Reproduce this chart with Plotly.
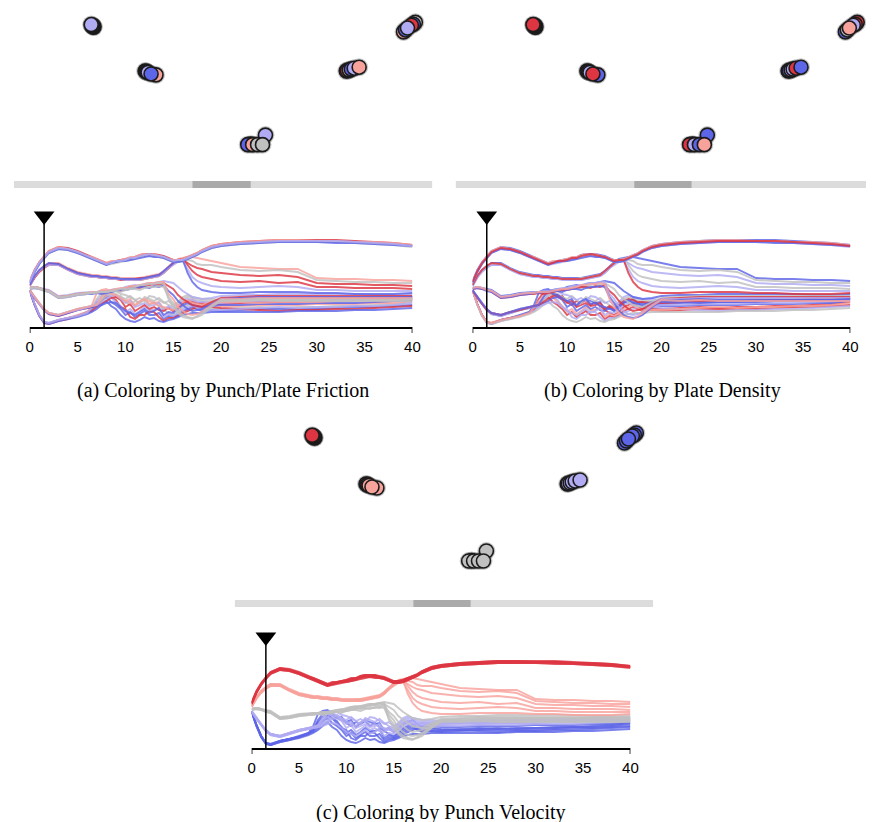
import plotly.graph_objects as go

W, H = 874, 822
OFF = 8  # page margin of the browser body

# ---------------- data ----------------
T = [0, 0.5, 1, 1.5, 2, 3, 4, 5,
     6, 6.5, 7, 7.5, 8, 8.5, 9, 9.5, 10, 10.5, 11, 11.5, 12, 12.5, 13, 13.5, 14, 14.5, 15, 15.5, 16, 16.5, 17, 17.5, 18,
     19, 20, 22, 24, 26, 28, 30, 32, 34, 36, 38, 40]
current_t = 1.5

# blue velocity group
B1 = [37, 23, 12, 5, 3, 7, 9, 11, 14, 18, 28, 34, 36, 33, 30, 31, 25, 22, 26, 24, 27, 22, 25, 21, 17, 14, 12, 15, 20, 22, 24, 21, 18, 19, 18, 19, 20, 19, 20, 20, 21, 21, 22, 23, 25]
B2 = [37, 23, 12, 5, 4, 7, 9, 11, 15, 17, 24, 27, 30, 25, 22, 18, 12, 15, 10, 13, 16, 12, 12, 14, 8, 11, 10, 12, 16, 18, 20, 18, 16, 17, 16, 17, 18, 18, 18, 18, 19, 20, 20, 21, 22]
B3 = [36, 22, 11, 4, 3, 6, 8, 11, 14, 16, 20, 26, 32, 30, 27, 20, 18, 10, 8, 12, 12, 16, 15, 10, 6, 9, 9, 11, 14, 16, 18, 20, 22, 20, 19, 18, 17, 16, 17, 17, 18, 18, 19, 20, 21]
B4 = [37, 23, 12, 5, 3, 7, 9, 12, 15, 22, 34, 37, 38, 35, 30, 28, 26, 28, 21, 25, 28, 26, 24, 25, 18, 20, 16, 19, 24, 26, 28, 24, 20, 22, 21, 21, 22, 22, 22, 23, 23, 23, 24, 24, 26]
B5 = [36, 22, 11, 4, 3, 6, 8, 10, 13, 15, 18, 22, 26, 21, 18, 12, 8, 6, 5, 7, 10, 8, 9, 6, 5, 7, 8, 10, 12, 13, 14, 14, 14, 15, 15, 15, 15, 15, 16, 16, 16, 17, 17, 18, 19]
B6 = [37, 23, 12, 5, 4, 7, 9, 11, 14, 19, 26, 31, 34, 29, 25, 21, 15, 18, 13, 16, 20, 17, 17, 19, 10, 13, 11, 14, 18, 20, 22, 19, 17, 17, 17, 18, 19, 20, 19, 20, 20, 21, 21, 22, 24]
# light blue velocity group
L1 = [37, 30, 24, 18, 14, 12, 15, 18, 20, 21, 22, 27, 31, 34, 33, 30, 28, 31, 27, 24, 30, 28, 26, 29, 25, 22, 20, 24, 28, 30, 29, 27, 26, 26, 26, 26, 27, 27, 28, 28, 28, 28, 29, 29, 30]
L2 = [37, 29, 23, 17, 13, 11, 14, 17, 19, 20, 21, 24, 26, 29, 30, 27, 20, 23, 16, 19, 22, 18, 20, 17, 16, 19, 16, 20, 24, 26, 25, 24, 24, 23, 23, 24, 25, 25, 25, 26, 27, 27, 28, 28, 28]
L3 = [36, 30, 24, 18, 14, 12, 15, 18, 20, 21, 23, 29, 34, 37, 36, 33, 32, 30, 27, 29, 26, 31, 30, 27, 24, 26, 22, 25, 30, 32, 30, 29, 28, 28, 27, 27, 28, 28, 28, 29, 29, 29, 30, 30, 31]
L4 = [37, 29, 23, 17, 13, 11, 14, 17, 19, 20, 21, 22, 24, 25, 24, 20, 16, 14, 12, 15, 18, 14, 16, 19, 12, 15, 14, 18, 22, 24, 22, 21, 20, 21, 22, 22, 23, 23, 23, 24, 24, 24, 25, 26, 27]
L5 = [36, 29, 23, 17, 14, 12, 15, 17, 20, 21, 22, 25, 28, 31, 32, 28, 24, 26, 20, 22, 24, 21, 22, 24, 18, 21, 18, 22, 26, 28, 27, 25, 25, 24, 24, 25, 26, 26, 26, 27, 27, 27, 28, 28, 29]
L6 = [37, 30, 24, 18, 14, 12, 15, 18, 20, 21, 22, 30, 36, 33, 32, 29, 26, 24, 22, 26, 28, 23, 24, 21, 20, 18, 17, 21, 25, 27, 24, 23, 22, 25, 25, 25, 24, 25, 25, 25, 26, 26, 27, 27, 28]
# gray velocity group
G1 = [39, 40, 39, 38, 37, 31, 32, 34, 35, 35, 35, 36, 36, 37, 38, 38, 40, 41, 42, 41, 43, 44, 44, 45, 46, 45, 44, 40, 36, 33, 30, 29, 28, 29, 31, 32, 32, 33, 33, 33, 33, 33, 32, 32, 33]
G2 = [39, 40, 39, 37, 36, 30, 31, 33, 34, 34, 34, 35, 35, 36, 37, 36, 38, 40, 40, 39, 41, 42, 43, 42, 44, 41, 38, 32, 28, 25, 22, 21, 20, 25, 29, 30, 31, 31, 31, 31, 31, 31, 31, 31, 31]
G3 = [38, 39, 38, 37, 35, 29, 30, 32, 33, 33, 34, 33, 34, 35, 36, 37, 37, 38, 39, 40, 40, 39, 41, 40, 42, 36, 32, 26, 22, 18, 16, 17, 18, 23, 28, 29, 30, 30, 30, 30, 30, 30, 30, 30, 30]
G4 = [39, 40, 39, 37, 36, 30, 31, 33, 34, 35, 35, 36, 36, 37, 38, 39, 39, 41, 41, 42, 43, 44, 44, 45, 45, 33, 28, 20, 16, 13, 12, 13, 15, 22, 28, 28, 29, 29, 29, 29, 29, 29, 29, 29, 29]
G5 = [38, 39, 38, 36, 35, 29, 30, 32, 33, 34, 34, 35, 35, 36, 36, 35, 37, 38, 38, 37, 39, 40, 40, 41, 40, 30, 24, 16, 12, 10, 9, 10, 12, 20, 26, 27, 28, 27, 27, 27, 27, 27, 27, 27, 28]
G6 = [39, 40, 39, 37, 36, 30, 31, 33, 34, 34, 35, 35, 35, 36, 37, 38, 38, 39, 40, 42, 42, 43, 43, 44, 43, 28, 20, 14, 10, 9, 8, 11, 14, 21, 27, 26, 27, 26, 26, 26, 26, 26, 26, 26, 26]
# salmon velocity group
S1 = [42, 51, 57, 61, 64, 64, 59, 55, 53, 52, 52, 51, 51, 50, 50, 49, 49, 49, 49, 49, 50, 51, 52, 53, 56, 61, 65, 68, 69, 70, 70, 69, 68, 66, 64, 60, 59, 58, 58, 49, 48, 48, 47, 47, 46]
S2 = [42, 50, 56, 60, 63, 63, 58, 54, 52, 51, 51, 50, 50, 49, 49, 48, 48, 48, 48, 48, 49, 50, 51, 52, 55, 60, 64, 67, 68, 67, 66, 63, 62, 62, 60, 57, 56, 57, 55, 47, 46, 45, 45, 44, 44]
S3 = [41, 49, 55, 59, 62, 62, 57, 53, 51, 50, 50, 49, 49, 48, 48, 47, 47, 47, 47, 47, 48, 49, 50, 51, 54, 59, 63, 66, 67, 64, 61, 59, 58, 55, 54, 52, 51, 52, 50, 44, 43, 43, 42, 42, 41]
S4 = [42, 50, 56, 60, 63, 63, 58, 54, 52, 51, 51, 50, 50, 49, 49, 48, 48, 48, 48, 49, 49, 50, 51, 52, 55, 60, 64, 67, 68, 62, 56, 52, 50, 48, 46, 45, 46, 44, 45, 40, 40, 39, 39, 39, 38]
S5 = [41, 50, 56, 60, 62, 62, 57, 53, 51, 50, 50, 49, 49, 48, 48, 48, 47, 47, 47, 47, 48, 49, 50, 51, 54, 59, 62, 65, 66, 58, 50, 46, 44, 41, 40, 39, 40, 41, 40, 37, 37, 36, 36, 36, 36]
S6 = [42, 51, 57, 61, 64, 63, 58, 54, 52, 51, 51, 50, 50, 49, 49, 48, 48, 48, 48, 48, 49, 50, 51, 52, 56, 60, 64, 67, 67, 54, 45, 40, 37, 35, 34, 34, 35, 35, 35, 34, 34, 33, 33, 33, 34]
# red velocity group
R1 = [46, 57, 65, 71, 76, 80, 79, 76, 72, 70, 68, 66, 64, 65, 66, 67, 68, 69, 70, 72, 73, 73, 73, 72, 71, 69, 67, 67, 68, 70, 72, 74, 77, 81, 83, 85, 86, 87, 87, 87, 87, 86, 85, 84, 82]
R2 = [44, 55, 63, 70, 75, 79, 78, 75, 71, 69, 67, 65, 63, 64, 65, 67, 67, 68, 69, 71, 72, 72, 72, 71, 70, 68, 66, 66, 67, 69, 71, 73, 76, 80, 82, 84, 85, 86, 86, 86, 86, 85, 84, 83, 81]
R3 = [45, 56, 64, 70, 74, 78, 77, 74, 70, 68, 66, 64, 62, 63, 64, 65, 66, 67, 68, 70, 71, 71, 71, 70, 69, 67, 65, 65, 66, 68, 70, 72, 75, 79, 81, 83, 84, 85, 85, 85, 85, 84, 83, 82, 80]
R4 = [45, 56, 64, 71, 76, 80, 78, 75, 71, 70, 68, 66, 64, 66, 66, 67, 68, 70, 70, 72, 73, 72, 73, 71, 70, 68, 67, 67, 68, 70, 72, 74, 77, 81, 83, 85, 86, 87, 87, 86, 86, 85, 85, 84, 82]
R5 = [44, 55, 63, 69, 74, 78, 77, 74, 70, 68, 66, 64, 62, 64, 65, 66, 66, 67, 68, 69, 70, 71, 70, 70, 69, 67, 65, 65, 66, 68, 70, 72, 75, 79, 81, 83, 84, 85, 85, 85, 84, 84, 83, 82, 81]
R6 = [45, 56, 64, 70, 75, 79, 78, 75, 71, 69, 67, 65, 63, 64, 66, 66, 67, 69, 69, 71, 72, 73, 72, 71, 70, 68, 66, 67, 67, 69, 71, 73, 76, 80, 82, 84, 85, 86, 86, 86, 86, 85, 84, 83, 81]

run_traj = [B1, B2, B3, B4, B5, B6, L1, L2, L3, L4, L5, L6, G1, G2, G3, G4, G5, G6,
            S1, S2, S3, S4, S5, S6, R1, R2, R3, R4, R5, R6]
# colour level per run (0 = red ... 4 = blue)
run_velocity = [4] * 6 + [3] * 6 + [2] * 6 + [1] * 6 + [0] * 6
run_friction = [2, 4, 0, 1, 4, 3,  2, 0, 2, 4, 3, 1,  3, 0, 4, 1, 2, 2,  1, 2, 0, 0, 3, 4,  0, 4, 2, 1, 4, 3]
run_density  = [0, 0, 3, 4, 2, 1,  2, 4, 3, 3, 0, 4,  4, 2, 0, 3, 4, 1,  4, 2, 3, 2, 3, 0,  4, 2, 3, 1, 4, 0]
# embedding position of each run at the current time step
run_sx = [417, 415, 413, 405, 407, 409,  347, 348, 350, 352, 355, 360,  265, 250, 247, 252, 257, 262,
          154, 143, 144, 145, 146, 149,  91, 90.5, 90, 89.5, 89, 88.3]
run_sy = [15, 17, 18, 25, 23, 21,  66, 65.5, 65, 64, 63, 62,  133, 142.5, 143, 143, 143, 143,
          70, 66, 66.5, 67, 67.5, 69,  20, 19.5, 19, 18.5, 18, 17.3]

palette = ["#dd3541", "#f8a29c", "#c0c0c0", "#b0abf2", "#5d65e8"]

x_ticks = [0, 5, 10, 15, 20, 25, 30, 35, 40]
captions = ["(a) Coloring by Punch/Plate Friction",
            "(b) Coloring by Plate Density",
            "(c) Coloring by Punch Velocity"]
color_keys = [run_friction, run_density, run_velocity]

# ---------------- layout geometry (window pixels) ----------------
panels = [
    dict(sc_x=(10, 434), sc_y=(0, 180), ln_x=(26, 414), ax_y=327,
         bar=(10, 434, 181, 188), dark=(191, 250), cap=(222, 390)),
    dict(sc_x=(458, 882), sc_y=(0, 180), ln_x=(475, 858), ax_y=327,
         bar=(458, 882, 181, 188), dark=(639, 697), cap=(668, 390)),
    dict(sc_x=(234, 658), sc_y=(418, 598), ln_x=(251, 635), ax_y=748,
         bar=(234, 658, 600, 607), dark=(415, 473), cap=(443, 812)),
]

def fx(p):
    return (p - OFF) / W

def fy(p):
    return 1 - (p - OFF) / H

fig = go.Figure()
layout = dict(width=W, height=H, margin=dict(l=0, r=0, t=0, b=0),
              paper_bgcolor="white", plot_bgcolor="rgba(0,0,0,0)", showlegend=False)
shapes = []
annotations = []

for i, (p, key, cap) in enumerate(zip(panels, color_keys, captions)):
    sxa, lxa = 2 * i + 1, 2 * i + 2
    sx_name, sy_name = f"x{sxa}", f"y{sxa}"
    lx_name, ly_name = f"x{lxa}", f"y{lxa}"

    # --- scatter (embedding) ---
    layout[f"xaxis{sxa}"] = dict(domain=[fx(p["sc_x"][0]), min(1, fx(p["sc_x"][1]))], range=[10, 434],
                                 visible=False, anchor=sy_name, fixedrange=True)
    layout[f"yaxis{sxa}"] = dict(domain=[max(0, fy(p["sc_y"][1])), min(1, fy(p["sc_y"][0]))], range=[180, 0],
                                 visible=False, anchor=sx_name, fixedrange=True)
    fig.add_trace(go.Scatter(x=run_sx, y=run_sy, mode="markers", xaxis=sx_name, yaxis=sy_name,
                             marker=dict(size=18, color="rgba(0,0,0,0.22)", line=dict(width=0)),
                             hoverinfo="skip", cliponaxis=False))
    fig.add_trace(go.Scatter(x=run_sx, y=run_sy, mode="markers", xaxis=sx_name, yaxis=sy_name,
                             marker=dict(size=14, color=[palette[k] for k in key],
                                         line=dict(width=1.6, color="#1b1b1b")), cliponaxis=False))

    # --- slider bar ---
    b = p["bar"]
    shapes.append(dict(type="rect", xref="paper", yref="paper", x0=fx(b[0]), x1=fx(b[1]),
                       y0=fy(b[3]), y1=fy(b[2]), fillcolor="#dcdcdc", line=dict(width=0), layer="below"))
    shapes.append(dict(type="rect", xref="paper", yref="paper", x0=fx(p["dark"][0]), x1=fx(p["dark"][1]),
                       y0=fy(b[3]), y1=fy(b[2]), fillcolor="#aaaaaa", line=dict(width=0), layer="below"))

    # --- line chart ---
    layout[f"xaxis{lxa}"] = dict(domain=[fx(p["ln_x"][0]), fx(p["ln_x"][1])], range=[0, 40],
                                 anchor=ly_name, showline=True, linecolor="black", linewidth=1.5,
                                 showgrid=False, zeroline=False, tickvals=x_ticks,
                                 ticks="outside", ticklen=5, tickcolor="rgba(0,0,0,0)",
                                 tickfont=dict(family="Liberation Sans", size=15, color="black"),
                                 fixedrange=True)
    layout[f"yaxis{lxa}"] = dict(domain=[fy(p["ax_y"]), fy(p["ax_y"] - 120)], range=[0, 120],
                                 anchor=lx_name, visible=False, fixedrange=True)
    for traj, k in zip(run_traj, key):
        fig.add_trace(go.Scatter(x=T, y=traj, mode="lines", xaxis=lx_name, yaxis=ly_name,
                                 line=dict(color=palette[k], width=1.9), opacity=0.82,
                                 hoverinfo="skip"))
    # current time indicator
    fig.add_trace(go.Scatter(x=[current_t, current_t], y=[0, 110], mode="lines",
                             xaxis=lx_name, yaxis=ly_name, line=dict(color="black", width=1.5),
                             hoverinfo="skip", cliponaxis=False))
    fig.add_trace(go.Scatter(x=[current_t], y=[111], mode="markers", xaxis=lx_name, yaxis=ly_name,
                             marker=dict(symbol="triangle-down", size=18, color="black"),
                             hoverinfo="skip", cliponaxis=False))
    # outer ticks at the axis ends
    for tv in (x_ticks[0], x_ticks[-1]):
        shapes.append(dict(type="line", xref=lx_name, yref=f"{ly_name} domain", x0=tv, x1=tv,
                           y0=0, y1=-6 / 120, line=dict(color="black", width=1.5)))

    annotations.append(dict(text=cap, xref="paper", yref="paper", x=fx(p["cap"][0]), y=fy(p["cap"][1]),
                            xanchor="center", yanchor="middle", showarrow=False,
                            font=dict(family="Liberation Serif", size=20, color="black")))

layout["shapes"] = shapes
layout["annotations"] = annotations
fig.update_layout(**layout)
fig.write_html("out.html")
